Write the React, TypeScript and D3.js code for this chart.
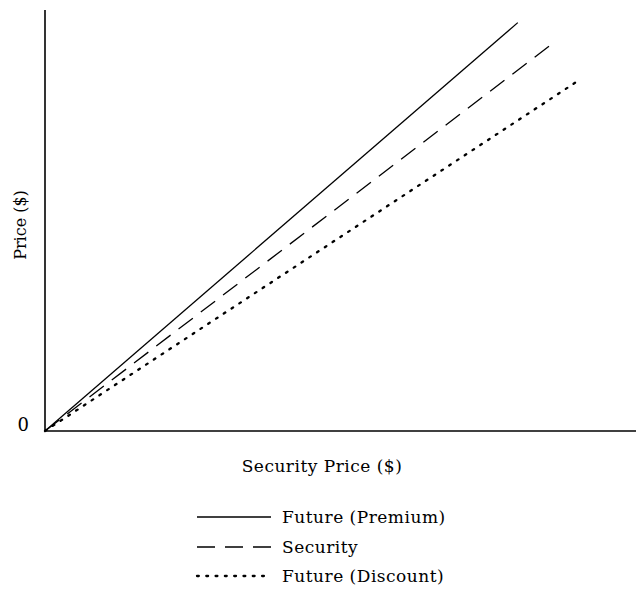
import React from "react";
import * as d3 from "d3";

const seriesNames = ["Future (Premium)", "Security", "Future (Discount)"];
const securityPriceStart = [0, 0, 0];
const securityPriceEnd = [80, 85.3, 90];
const priceStart = [0, 0, 0];
const priceEnd = [97, 91.4, 83];
const yTickLabels = ["0"];
const xTitle = "Security Price ($)";
const yTitle = "Price ($)";

const W = 637;
const H = 591;
const FONT = "'DejaVu Serif', serif";

export default function App() {
  const x = d3.scaleLinear().domain([0, 100]).range([45, 636]);
  const y = d3.scaleLinear().domain([0, 100]).range([431, 10]);
  const line = d3
    .line<[number, number]>()
    .x((d) => x(d[0]))
    .y((d) => y(d[1]));
  const dashes = [null, "18,10", "1.8,7.5"];
  const widths = [1.3, 1.3, 2.3];
  const caps = ["butt", "butt", "round"];
  const legendY = [517, 547, 576];

  return (
    <svg width={W} height={H} style={{ position: "absolute", left: 0, top: 0, background: "#fff" }}>
      <g fill="none" stroke="#000">
        <line x1={x(0)} y1={y(0)} x2={x(100)} y2={y(0)} strokeWidth={1.6} />
        <line x1={x(0)} y1={y(0)} x2={x(0)} y2={y(100)} strokeWidth={1.6} />
        {seriesNames.map((n, i) => (
          <path
            key={n}
            d={line([
              [securityPriceStart[i], priceStart[i]],
              [securityPriceEnd[i], priceEnd[i]],
            ]) as string}
            strokeWidth={widths[i]}
            strokeDasharray={dashes[i] ?? undefined}
            strokeLinecap={caps[i] as any}
          />
        ))}
      </g>
      <text x={x(0) - 16} y={y(0) - 5} fontFamily={FONT} fontSize={18} textAnchor="end" dominantBaseline="middle" fill="#000">
        {yTickLabels[0]}
      </text>
      <text x={322} y={472} fontFamily={FONT} fontSize={17} letterSpacing={0.5} textAnchor="middle" fill="#000">
        {xTitle}
      </text>
      <text
        transform={`translate(26,225) rotate(-90)`}
        fontFamily={FONT}
        fontSize={16}
        textAnchor="middle"
        fill="#000"
      >
        {yTitle}
      </text>
      {seriesNames.map((n, i) => (
        <g key={n}>
          <line
            x1={197}
            x2={271}
            y1={legendY[i]}
            y2={legendY[i]}
            stroke="#000"
            strokeWidth={widths[i]}
            strokeDasharray={dashes[i] ?? undefined}
            strokeLinecap={caps[i] as any}
          />
          <text x={282} y={legendY[i] + 6} fontFamily={FONT} fontSize={17} letterSpacing={0.5} fill="#000">
            {n}
          </text>
        </g>
      ))}
    </svg>
  );
}
